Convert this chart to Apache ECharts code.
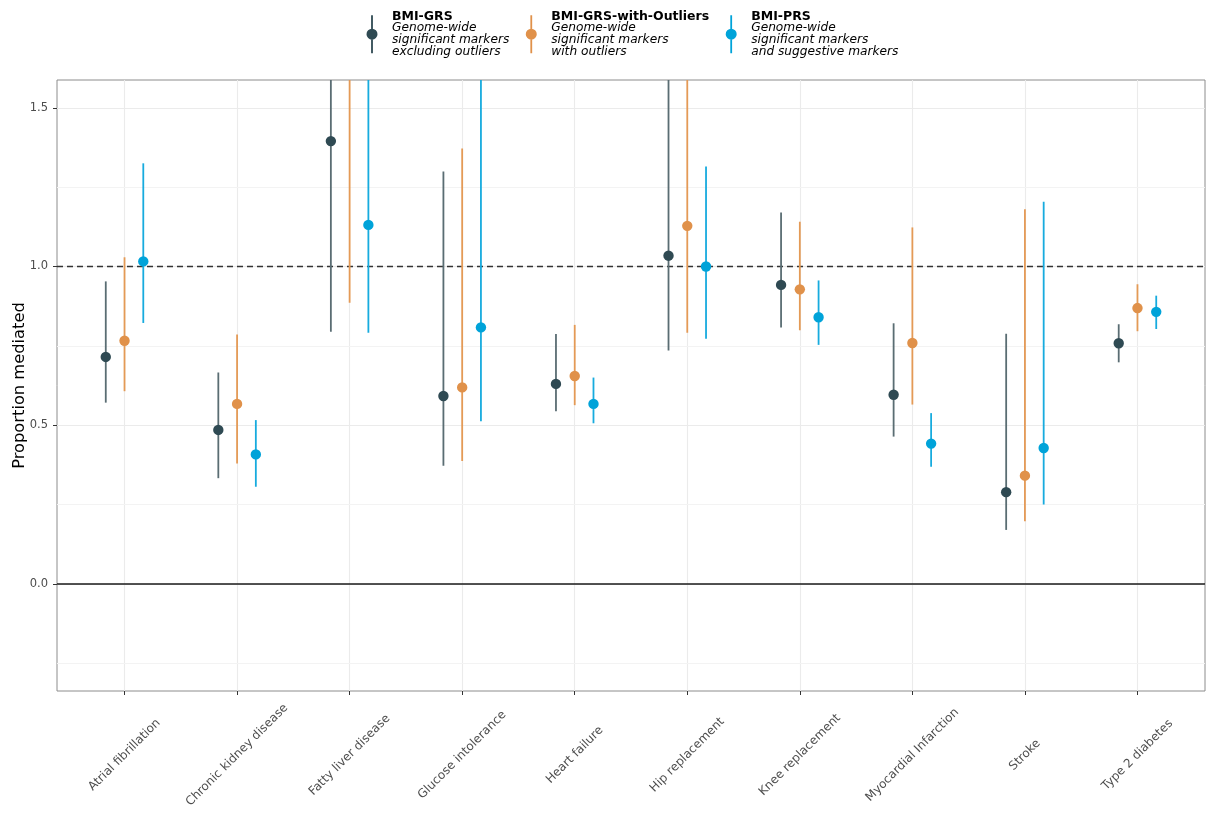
<!DOCTYPE html>
<html>
<head>
<meta charset="utf-8">
<script src="https://cdn.jsdelivr.net/npm/echarts@6/dist/echarts.min.js"></script>
<style>html,body{margin:0;padding:0;background:#fff}#c{width:1206px;height:814px}</style>
</head>
<body>
<div id="c"></div>
<script>
const categories = ['Atrial fibrillation','Chronic kidney disease','Fatty liver disease','Glucose intolerance','Heart failure','Hip replacement','Knee replacement','Myocardial Infarction','Stroke','Type 2 diabetes'];
const yTicks = [0, 0.5, 1, 1.5];
const yMinorGrid = [-0.25, 0.25, 0.75, 1.25];

const grsEst = [0.715, 0.485, 1.395, 0.592, 0.630, 1.034, 0.942, 0.596, 0.289, 0.758];
const grsLo  = [0.571, 0.333, 0.794, 0.372, 0.544, 0.735, 0.808, 0.464, 0.170, 0.698];
const grsHi  = [0.953, 0.666, 2.100, 1.299, 0.787, 1.950, 1.170, 0.821, 0.788, 0.818];

const outEst = [0.766, 0.567, 1.750, 0.619, 0.655, 1.128, 0.928, 0.759, 0.341, 0.869];
const outLo  = [0.607, 0.379, 0.886, 0.387, 0.563, 0.791, 0.799, 0.565, 0.197, 0.796];
const outHi  = [1.029, 0.786, 2.600, 1.372, 0.816, 2.000, 1.141, 1.123, 1.180, 0.944];

const prsEst = [1.016, 0.408, 1.131, 0.808, 0.567, 1.000, 0.840, 0.442, 0.428, 0.857];
const prsLo  = [0.822, 0.306, 0.791, 0.512, 0.506, 0.772, 0.753, 0.369, 0.250, 0.803];
const prsHi  = [1.325, 0.516, 1.900, 1.750, 0.650, 1.315, 0.956, 0.538, 1.204, 0.908];

const groups = [
  {name:'BMI-GRS', sub:['Genome-wide','significant markers','excluding outliers'], est:grsEst, lo:grsLo, hi:grsHi, line:'#5a6d73', point:'#2f4a53', off:-1/6},
  {name:'BMI-GRS-with-Outliers', sub:['Genome-wide','significant markers','with outliers'], est:outEst, lo:outLo, hi:outHi, line:'#e49a56', point:'#e0914a', off:0},
  {name:'BMI-PRS', sub:['Genome-wide','significant markers','and suggestive markers'], est:prsEst, lo:prsLo, hi:prsHi, line:'#17abde', point:'#00a3d9', off:1/6}
];

const FONT = '"DejaVu Sans", sans-serif';
const legendIcon = 'path://M0 0 M30 38 M14.1 0 H15.9 V38 H14.1 Z M20.5 19 A5.5 5.5 0 1 1 9.5 19 A5.5 5.5 0 1 1 20.5 19 Z';

function makeRender(g) {
  return function (params, api) {
    const x = api.value(0) + g.off;
    const pE = api.coord([x, api.value(1)]);
    const pL = api.coord([x, api.value(2)]);
    const pH = api.coord([x, api.value(3)]);
    return {
      type: 'group',
      children: [
        {type:'line', shape:{x1:pL[0], y1:pL[1], x2:pH[0], y2:pH[1]}, style:{stroke:g.line, lineWidth:1.8}},
        {type:'circle', shape:{cx:pE[0], cy:pE[1], r:5.2}, style:{fill:g.point}}
      ]
    };
  };
}

const series = [{
  type: 'line', data: [], silent: true, z: 1,
  markLine: {
    silent: true, symbol: 'none', label: {show:false}, animation: false, z: 1,
    data: yMinorGrid.map(v => ({yAxis: v, lineStyle:{color:'#f3f3f3', width:1, type:'solid'}}))
      .concat([
        {yAxis: 0, lineStyle:{color:'#1a1a1a', width:1.6, type:'solid'}},
        {yAxis: 1, lineStyle:{color:'#333333', width:1.3, type:[6,4]}}
      ])
  }
}].concat(groups.map(g => ({
  type: 'custom', name: g.name, clip: true, z: 6,
  itemStyle: {color: g.point},
  renderItem: makeRender(g),
  encode: {x: 0, y: [1,2,3]},
  data: categories.map((c, i) => [i, g.est[i], g.lo[i], g.hi[i]])
})));

const chart = echarts.init(document.getElementById('c'), null, {renderer: 'canvas'});
chart.setOption({
  animation: false,
  backgroundColor: '#ffffff',
  textStyle: {fontFamily: FONT},
  legend: {
    left: 352, top: 5, orient: 'horizontal',
    itemWidth: 30, itemHeight: 38, itemGap: 7,
    icon: legendIcon,
    data: groups.map(g => ({name: g.name, icon: legendIcon, itemStyle: {color: g.point}})),
    formatter: function (name) {
      const g = groups.find(x => x.name === name);
      return '{b|' + g.name + '}\n' + g.sub.map(s => '{i|' + s + '}').join('\n');
    },
    textStyle: {
      fontFamily: FONT, color: '#000',
      rich: {
        b: {fontFamily: FONT, fontWeight: 'bold', fontSize: 12.5, lineHeight: 11.8, color:'#000'},
        i: {fontFamily: FONT, fontStyle: 'italic', fontSize: 12.2, lineHeight: 11.8, color:'#000'}
      }
    }
  },
  grid: {left: 57, right: 1, top: 80, bottom: 123, show: true, borderColor: '#8c8c8c', borderWidth: 1,
         backgroundColor: 'transparent', outerBoundsMode: 'none', containLabel: false},
  xAxis: {
    type: 'value', min: -0.6, max: 9.6, minInterval: 1, maxInterval: 1, splitNumber: 10,
    axisLine: {show: false, onZero: false},
    axisTick: {show: true, length: 4, lineStyle: {color: '#333', width: 1}, customValues: categories.map((c, i) => i)},
    axisLabel: {
      show: true, rotate: 45, align: 'center', verticalAlign: 'middle', margin: 64,
      color: '#4d4d4d', fontSize: 12, fontFamily: FONT,
      customValues: categories.map((c, i) => i),
      formatter: v => (Number.isInteger(v) && categories[v]) ? categories[v] : ''
    },
    splitLine: {show: true, lineStyle: {color: '#ebebeb', width: 1.1}}
  },
  yAxis: {
    type: 'value', min: -0.3375, max: 1.5875, minInterval: 0.5, maxInterval: 0.5, splitNumber: 4,
    name: 'Proportion mediated', nameLocation: 'middle', nameGap: 29, nameRotate: 90, nameMoveOverlap: false,
    nameTextStyle: {fontSize: 16.3, color: '#000', fontFamily: FONT},
    axisLine: {show: false, onZero: false},
    axisTick: {show: true, length: 4, lineStyle: {color: '#333', width: 1}, customValues: yTicks},
    axisLabel: {
      color: '#4d4d4d', fontSize: 11.5, fontFamily: FONT, margin: 9,
      customValues: yTicks,
      formatter: v => v.toFixed(1)
    },
    splitLine: {show: true, lineStyle: {color: '#ebebeb', width: 1.1}}
  },
  series: series
});
</script>
</body>
</html>
